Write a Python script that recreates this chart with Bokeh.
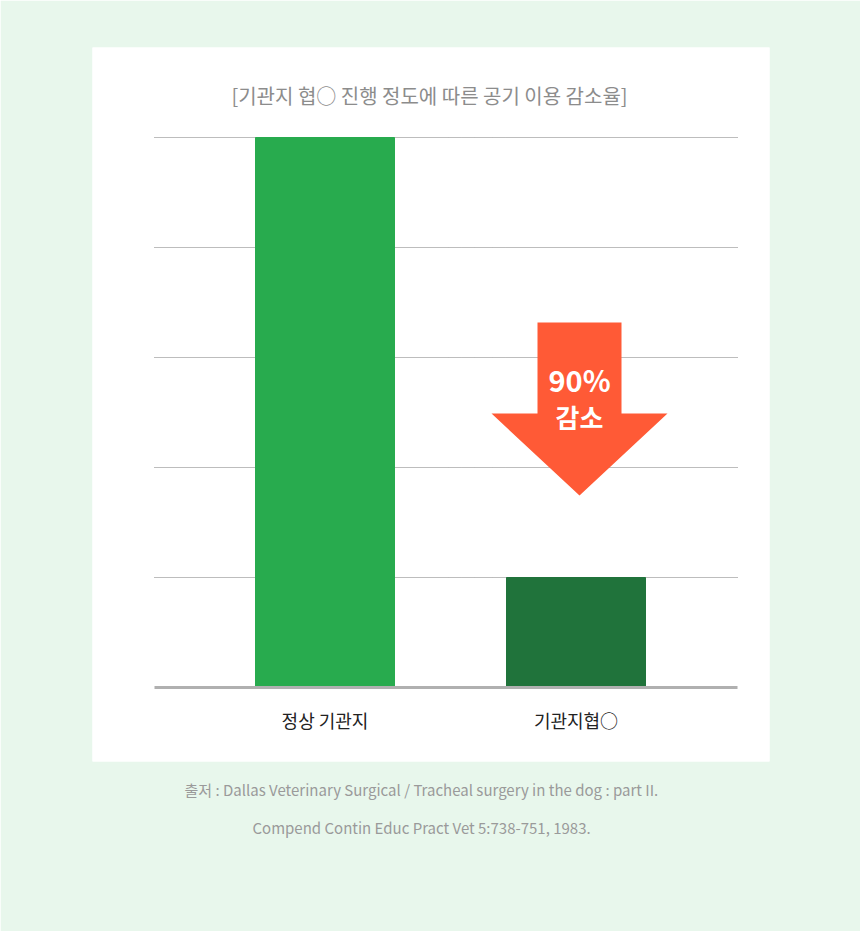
from bokeh.plotting import figure
from bokeh.models import Range1d, FixedTicker, ColumnDataSource, Label, Title
from bokeh.core.properties import value
from bokeh.embed import file_html
from bokeh.resources import INLINE

# ---- data ----
categories = ["정상 기관지", "기관지협○"]
values = [100, 20]
bar_colors = ["#28ab4e", "#20733b"]
grid_ticks = [20, 40, 60, 80, 100]
title_text = "[기관지 협○ 진행 정도에 따른 공기 이용 감소율]"
arrow_label = ["90%", "감소"]
source_lines = ["출저 : Dallas Veterinary Surgical / Tracheal surgery in the dog : part II.",
                "Compend Contin Educ Pract Vet 5:738-751, 1983."]

# ---- layout constants (pixels) ----
W, H = 860, 931
PX_X = 251.0            # pixels per category step
PX_Y = 5.5              # pixels per y unit
card_l, card_r, card_t, card_b = 92, 769, 47, 761
chart_l, chart_r, base_y = 154, 737, 687
bar_c0 = 324.5          # x pixel of first category centre

def dx(px):
    return (px - bar_c0) / PX_X

def dy(py):
    return (base_y - py) / PX_Y

GREEN_BG = "#e8f7ec"
FONT = "Noto Sans CJK KR"

p = figure(width=W, height=H, output_backend="svg", toolbar_location=None,
           x_range=Range1d(dx(card_l), dx(card_r)), y_range=Range1d(dy(card_b), dy(card_t)),
           min_border_left=card_l, min_border_right=W - card_r,
           min_border_top=card_t, min_border_bottom=H - card_b,
           border_fill_color=GREEN_BG, background_fill_color="white",
           outline_line_color=None)

idx = list(range(len(categories)))
src = ColumnDataSource(dict(x=idx, top=values, color=bar_colors))
p.vbar(x="x", top="top", width=139 / PX_X, color="color", source=src)

# arrow (decoration)
ax = dx(579)
sw, hw = 42 / PX_X, 88 / PX_X
y_top, y_head, y_tip = dy(322), dy(413), dy(495)
p.patch([ax - sw, ax + sw, ax + sw, ax + hw, ax, ax - hw, ax - sw],
        [y_top, y_top, y_head, y_head, y_tip, y_head, y_head],
        fill_color="#ff5a36", line_color=None)
p.text(x=[ax], y=[dy(378.5)], text=[arrow_label[0]],
       text_font=value(FONT), text_font_size="29px", text_font_style="bold",
       text_color="white", text_align="center", text_baseline="middle")
p.text(x=[ax], y=[dy(416)], text=[arrow_label[1]],
       text_font=value(FONT), text_font_size="26px", text_font_style="bold",
       text_color="white", text_align="center", text_baseline="middle")

# grid
p.yaxis.visible = False
p.xgrid.visible = False
p.ygrid.ticker = FixedTicker(ticks=grid_ticks)
p.ygrid.grid_line_color = "#7a7a7a"
p.ygrid.grid_line_dash = "1 1"
p.ygrid.grid_line_width = 1
p.ygrid.cross_bounds = (dx(chart_l), dx(chart_r))

# x axis drawn at y = 0 inside the card
xa = p.xaxis[0]
xa.fixed_location = 0
xa.bounds = (dx(chart_l), dx(chart_r))
xa.ticker = FixedTicker(ticks=idx)
xa.major_label_overrides = {i: c for i, c in enumerate(categories)}
xa.axis_line_color = "#b0b0b0"
xa.axis_line_width = 3
xa.major_tick_line_color = None
xa.minor_tick_line_color = None
xa.major_label_text_font = FONT
xa.major_label_text_font_size = "18px"
xa.major_label_text_color = "#222222"
xa.major_label_standoff = 13

# chart title inside the card
p.add_layout(Label(x=dx(429), y=dy(95), text=title_text, text_font=FONT,
                   text_font_size="20px", text_color="#8c8c8c",
                   text_align="center", text_baseline="middle"))

# source lines under the card
for line, off, so in zip(source_lines, [92, 160], [30, 0]):
    p.add_layout(Title(text=line, text_font=FONT, text_font_size="15px",
                       text_font_style="normal", text_color="#9a9a9a",
                       align="left", offset=off, standoff=so), "below")

open("out.html", "w").write(file_html(p, INLINE))
